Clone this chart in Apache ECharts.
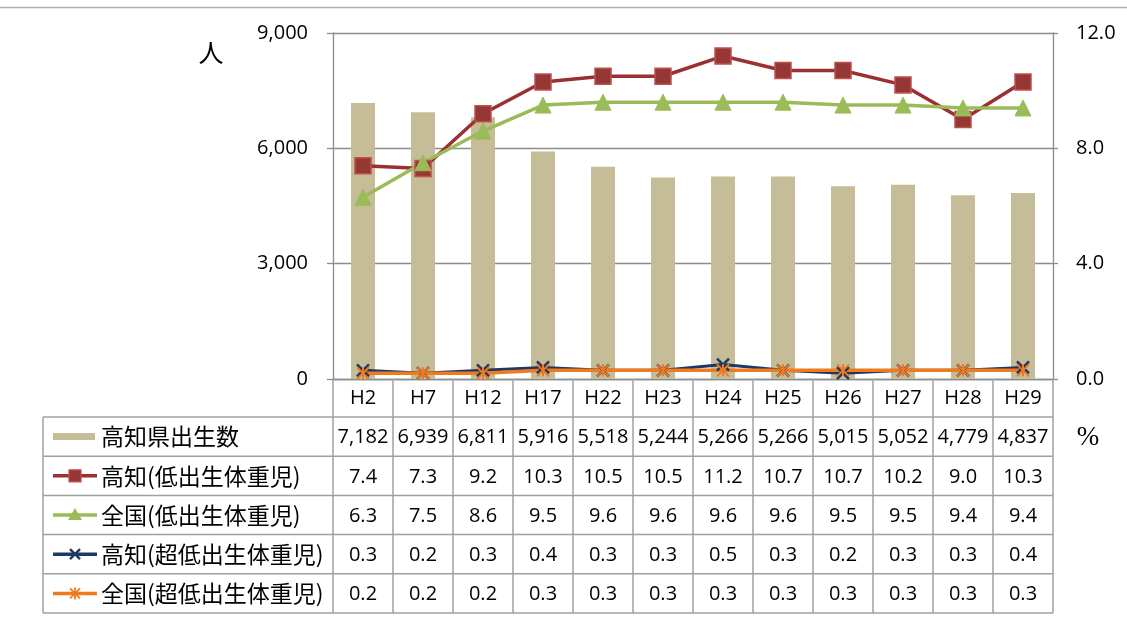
<!DOCTYPE html>
<html><head><meta charset="utf-8">
<script src="https://cdn.jsdelivr.net/npm/echarts@6.0.0/dist/echarts.min.js"></script>
<style>html,body{margin:0;padding:0;background:#fff}#c{width:1127px;height:618px}</style>
</head><body><div id="c"></div>
<script>
// ---- data ----
const categories = ['H2','H7','H12','H17','H22','H23','H24','H25','H26','H27','H28','H29'];
const births = [7182, 6939, 6811, 5916, 5518, 5244, 5266, 5266, 5015, 5052, 4779, 4837];
const kochiLow = [7.4, 7.3, 9.2, 10.3, 10.5, 10.5, 11.2, 10.7, 10.7, 10.2, 9.0, 10.3];
const nationalLow = [6.3, 7.5, 8.6, 9.5, 9.6, 9.6, 9.6, 9.6, 9.5, 9.5, 9.4, 9.4];
const kochiVeryLow = [0.3, 0.2, 0.3, 0.4, 0.3, 0.3, 0.5, 0.3, 0.2, 0.3, 0.3, 0.4];
const nationalVeryLow = [0.2, 0.2, 0.2, 0.3, 0.3, 0.3, 0.3, 0.3, 0.3, 0.3, 0.3, 0.3];
const seriesNames = ['高知県出生数','高知(低出生体重児)','全国(低出生体重児)','高知(超低出生体重児)','全国(超低出生体重児)'];
const leftUnit = '人';
const rightUnit = '%';

// ---- layout / style ----
const W = 1127, H = 618;
const GRID = {left: 333, right: 1053, top: 33, bottom: 379};
const ROW_Y = [379, 417, 456.2, 495.4, 534.6, 573.8, 613];
const TABLE_LEFT = 43;
const GRIDC = '#8c8c8c';
const TABLEC = '#a0a0a0';
const NUMFONT = '"Open Sans", "Liberation Sans", sans-serif';
const CJKFONT = '"Noto Sans CJK JP", "Noto Sans", sans-serif';
const NUMSIZE = 20;
const colors = {
  bar: '#c4bd97',
  redLine: '#9b2f31', redFill: '#953735', redBorder: '#c0504d',
  green: '#9bbb59',
  navy: '#1f3864',
  orange: '#f07a1e'
};
const X_PATH = 'path://M0,0L10,10M10,0L0,10';
const STAR_PATH = 'path://M5,0L5,10M0,0L10,10M10,0L0,10';

const chart = echarts.init(document.getElementById('c'), null, {renderer: 'canvas'});
const option = {
  animation: false,
  grid: {left: GRID.left, right: W - GRID.right, top: GRID.top, bottom: H - GRID.bottom, containLabel: false},
  xAxis: {
    type: 'category', data: categories, boundaryGap: true,
    axisLine: {show: true, lineStyle: {color: GRIDC, width: 1.3}},
    axisTick: {show: false},
    axisLabel: {margin: 19, verticalAlign: 'middle', color: '#000', fontFamily: NUMFONT, fontSize: NUMSIZE}
  },
  yAxis: [
    {type: 'value', min: 0, max: 9000, interval: 3000, position: 'left',
     axisLine: {show: true, lineStyle: {color: GRIDC, width: 1.3}},
     axisTick: {show: true, length: 6, lineStyle: {color: GRIDC, width: 1.3}},
     splitLine: {show: true, lineStyle: {color: GRIDC, width: 1.3}},
     axisLabel: {margin: 25, color: '#000', fontFamily: NUMFONT, fontSize: NUMSIZE,
       formatter: v => v.toLocaleString('en-US')}},
    {type: 'value', min: 0, max: 12, interval: 4, position: 'right',
     axisLine: {show: true, lineStyle: {color: GRIDC, width: 1.3}},
     axisTick: {show: true, length: 5, lineStyle: {color: GRIDC, width: 1.3}},
     splitLine: {show: false},
     axisLabel: {margin: 23, color: '#000', fontFamily: NUMFONT, fontSize: NUMSIZE,
       formatter: v => v.toFixed(1)}}
  ],
  series: [
    {name: seriesNames[0], type: 'bar', data: births, yAxisIndex: 0, barWidth: 24,
     itemStyle: {color: colors.bar}},
    {name: seriesNames[1], type: 'line', data: kochiLow, yAxisIndex: 1,
     symbol: 'rect', symbolSize: 16,
     lineStyle: {color: colors.redLine, width: 3.5},
     itemStyle: {color: colors.redFill, borderColor: colors.redBorder, borderWidth: 1.5}},
    {name: seriesNames[2], type: 'line', data: nationalLow, yAxisIndex: 1,
     symbol: 'triangle', symbolSize: 16,
     lineStyle: {color: colors.green, width: 3.5},
     itemStyle: {color: colors.green, borderColor: colors.green, borderWidth: 1}},
    {name: seriesNames[3], type: 'line', data: kochiVeryLow, yAxisIndex: 1,
     symbol: X_PATH, symbolSize: 12,
     lineStyle: {color: colors.navy, width: 3},
     itemStyle: {color: colors.navy, borderColor: colors.navy, borderWidth: 2.5}},
    {name: seriesNames[4], type: 'line', data: nationalVeryLow, yAxisIndex: 1,
     symbol: STAR_PATH, symbolSize: 12,
     lineStyle: {color: colors.orange, width: 3.5},
     itemStyle: {color: colors.orange, borderColor: colors.orange, borderWidth: 2}}
  ]
};
chart.setOption(option);

// ---- data table + units drawn from the arrays, aligned with the category axis ----
const centers = categories.map(c => chart.convertToPixel({xAxisIndex: 0}, c));
const band = centers[1] - centers[0];
const g = [];
const ln = (x1, y1, x2, y2, color, w) => ({type: 'line', silent: true, z: 10,
  shape: {x1, y1, x2, y2}, style: {stroke: color || TABLEC, lineWidth: w || 1.5}});
const txt = (x, y, text, font, size, align, color) => ({type: 'text', silent: true, z: 11, x, y,
  style: {text, fill: color || '#000', font: size + 'px ' + font, align: align || 'center', verticalAlign: 'middle'}});

// outer top border
g.push(ln(0, 7.5, W, 7.5, '#b0b0b0', 1.5));
// vertical category lines
const xs = [centers[0] - band / 2].concat(centers.map(c => c + band / 2));
xs.forEach(x => g.push(ln(x, ROW_Y[0], x, ROW_Y[ROW_Y.length - 1])));
// horizontal rows
for (let i = 1; i < ROW_Y.length; i++) g.push(ln(TABLE_LEFT, ROW_Y[i], xs[xs.length - 1], ROW_Y[i]));
g.push(ln(TABLE_LEFT, ROW_Y[1], TABLE_LEFT, ROW_Y[ROW_Y.length - 1]));

const rows = [
  {values: births, fmt: v => v.toLocaleString('en-US')},
  {values: kochiLow, fmt: v => v.toFixed(1)},
  {values: nationalLow, fmt: v => v.toFixed(1)},
  {values: kochiVeryLow, fmt: v => v.toFixed(1)},
  {values: nationalVeryLow, fmt: v => v.toFixed(1)}
];
const SW_L = 53, SW_R = 97, SW_C = 75, LABEL_X = 101;
rows.forEach((r, i) => {
  const cy = (ROW_Y[i + 1] + ROW_Y[i + 2]) / 2;
  r.values.forEach((v, j) => g.push(txt(centers[j], cy + 1, r.fmt(v), NUMFONT, NUMSIZE)));
  g.push(txt(LABEL_X, cy, seriesNames[i], CJKFONT, 23, 'left'));
  if (i === 0) {
    g.push({type: 'rect', silent: true, z: 11, shape: {x: SW_L, y: cy - 3.5, width: SW_R - SW_L - 2, height: 7}, style: {fill: colors.bar}});
  } else {
    const lc = [colors.redLine, colors.green, colors.navy, colors.orange][i - 1];
    g.push(ln(SW_L, cy, SW_R, cy, lc, 3.5));
    if (i === 1) {
      g.push({type: 'rect', silent: true, z: 12, shape: {x: SW_C - 6, y: cy - 6, width: 12, height: 12},
        style: {fill: colors.redFill, stroke: colors.redBorder, lineWidth: 1.2}});
    } else if (i === 2) {
      g.push({type: 'polygon', silent: true, z: 12, shape: {points: [[SW_C, cy - 7], [SW_C + 7, cy + 5], [SW_C - 7, cy + 5]]},
        style: {fill: colors.green}});
    } else if (i === 3) {
      g.push(ln(SW_C - 5, cy - 5, SW_C + 5, cy + 5, colors.navy, 2.5));
      g.push(ln(SW_C + 5, cy - 5, SW_C - 5, cy + 5, colors.navy, 2.5));
    } else {
      g.push(ln(SW_C, cy - 6, SW_C, cy + 6, colors.orange, 1.8));
      g.push(ln(SW_C - 5, cy - 5, SW_C + 5, cy + 5, colors.orange, 1.8));
      g.push(ln(SW_C + 5, cy - 5, SW_C - 5, cy + 5, colors.orange, 1.8));
    }
  }
});
// units
g.push(txt(211, 52, leftUnit, CJKFONT, 25, 'center', '#000'));
g.push(txt(1088, 438, rightUnit, '"Liberation Serif", "DejaVu Serif", serif', 27, 'center', '#000'));

chart.setOption({graphic: {elements: g}});
</script>
</body></html>
